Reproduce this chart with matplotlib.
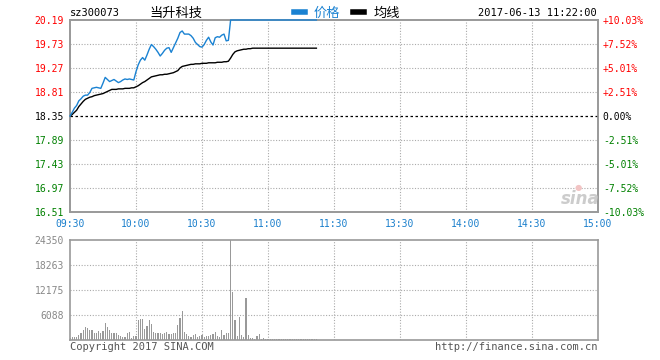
import matplotlib
matplotlib.use('Agg')
import matplotlib.pyplot as plt
from matplotlib.lines import Line2D

# ---------------- data ----------------
minutes = list(range(113))  # minutes after 09:30 (up to 11:22)

price = [18.35, 18.42, 18.50, 18.55, 18.64, 18.68, 18.73, 18.75, 18.75, 18.80,
         18.88, 18.89, 18.90, 18.89, 18.88, 18.98, 19.09, 19.05, 19.01, 19.03,
         19.05, 19.02, 18.99, 19.01, 19.04, 19.06, 19.05, 19.06, 19.05, 19.04,
         19.20, 19.33, 19.42, 19.47, 19.42, 19.52, 19.63, 19.72, 19.68, 19.63,
         19.57, 19.50, 19.55, 19.61, 19.65, 19.66, 19.57, 19.66, 19.75, 19.84,
         19.95, 19.98, 19.92, 19.92, 19.92, 19.89, 19.84, 19.76, 19.72, 19.68,
         19.67, 19.72, 19.80, 19.86, 19.77, 19.71, 19.85, 19.87, 19.86, 19.90,
         19.92, 19.79, 19.80, 20.19, 20.19, 20.19, 20.19, 20.19, 20.19, 20.19,
         20.19, 20.19, 20.19, 20.19, 20.19, 20.19, 20.19, 20.19, 20.19, 20.19,
         20.19, 20.19, 20.19, 20.19, 20.19, 20.19, 20.19, 20.19, 20.19, 20.19,
         20.19, 20.19, 20.19, 20.19, 20.19, 20.19, 20.19, 20.19, 20.19, 20.19,
         20.19, 20.19, 20.19]

avg_price = [18.35, 18.38, 18.42, 18.46, 18.53, 18.58, 18.63, 18.67, 18.69, 18.71,
             18.72, 18.74, 18.75, 18.76, 18.77, 18.78, 18.80, 18.82, 18.84, 18.86,
             18.86, 18.86, 18.87, 18.87, 18.87, 18.88, 18.88, 18.88, 18.89, 18.89,
             18.91, 18.93, 18.96, 18.99, 19.01, 19.04, 19.07, 19.10, 19.11, 19.12,
             19.13, 19.14, 19.14, 19.15, 19.15, 19.16, 19.17, 19.18, 19.20, 19.22,
             19.27, 19.30, 19.31, 19.32, 19.33, 19.34, 19.34, 19.35, 19.35, 19.35,
             19.36, 19.36, 19.36, 19.37, 19.37, 19.37, 19.37, 19.38, 19.38, 19.38,
             19.39, 19.39, 19.40, 19.46, 19.53, 19.58, 19.60, 19.61, 19.62, 19.63,
             19.63, 19.64, 19.64, 19.65, 19.65, 19.65, 19.65, 19.65, 19.65, 19.65,
             19.65, 19.65, 19.65, 19.65, 19.65, 19.65, 19.65, 19.65, 19.65, 19.65,
             19.65, 19.65, 19.65, 19.65, 19.65, 19.65, 19.65, 19.65, 19.65, 19.65,
             19.65, 19.65, 19.65]

volume = [490, 810, 650, 810, 1140, 1790, 2440, 3250, 2930, 2440,
          2440, 1790, 1630, 2110, 1790, 2110, 4060, 3250, 2440, 1630,
          1790, 1790, 1140, 980, 810, 810, 1790, 1950, 490, 980,
          980, 4870, 5200, 5200, 2600, 3410, 4870, 3900, 1950, 1790,
          1790, 1790, 1460, 1790, 1950, 1460, 1460, 1790, 1790, 3580,
          5370, 7160, 1950, 1460, 980, 650, 1140, 1460, 810, 980,
          1140, 810, 980, 980, 1140, 1460, 1950, 980, 810, 2440,
          1140, 1790, 1630, 24350, 11800, 4880, 890, 5690, 1220, 810,
          10250, 1220, 490, 490, 330, 980, 1460, 330, 490, 330,
          330, 250, 240, 250, 240, 250, 250, 240, 250, 240,
          250, 240, 250, 250, 240, 250, 240, 250, 250, 240,
          250, 240, 250]

prev_close = 18.35
price_ticks = [16.51, 16.97, 17.43, 17.89, 18.35, 18.81, 19.27, 19.73, 20.19]
pct_labels = ['-10.03%', '-7.52%', '-5.01%', '-2.51%', '0.00%',
              '+2.51%', '+5.01%', '+7.52%', '+10.03%']
time_ticks = [0, 30, 60, 90, 120, 150, 180, 210, 240]
time_labels = ['09:30', '10:00', '10:30', '11:00', '11:30',
               '13:30', '14:00', '14:30', '15:00']
vol_ticks = [6088, 12175, 18263, 24350]
vol_labels = ['6088', '12175', '18263', '24350']

# ---------------- style ----------------
W, H = 660, 360
MONO = 'DejaVu Sans Mono'
RED, GREEN, BLUE = '#ff0000', '#008000', '#1a7fcc'
FRAME = '#999999'
GRID = '#aaaaaa'

fig = plt.figure(figsize=(W / 100, H / 100), dpi=100)
fig.patch.set_facecolor('white')


def box(x0, y0, x1, y1):
    return [x0 / W, 1 - y1 / H, (x1 - x0) / W, (y1 - y0) / H]


ax = fig.add_axes(box(70, 20, 598, 212))
axv = fig.add_axes(box(70, 240, 598, 340))

# price panel
ax.plot(minutes, price, color='#1a82d2', lw=1.0, zorder=5, clip_on=False)
ax.plot(minutes, avg_price, color='black', lw=1.0, zorder=4)
ax.axhline(prev_close, color='black', lw=0.9, ls=(0, (2, 2)), zorder=2)
ax.set_xlim(0, 240)
ax.set_ylim(price_ticks[0], price_ticks[-1])
ax.set_yticks(price_ticks)
ax.set_yticklabels([f'{v:.2f}' for v in price_ticks], fontfamily=MONO, fontsize=7)
ax.set_xticks(time_ticks)
ax.set_xticklabels(time_labels, fontfamily=MONO, fontsize=7, color=BLUE)
ax.tick_params(length=0, pad=4.5)
ax.tick_params(axis='x', pad=5)
for i, t in enumerate(ax.get_yticklabels()):
    t.set_color(RED if i > 4 else (GREEN if i < 4 else 'black'))
for v in time_ticks[1:-1]:
    ax.axvline(v, color=GRID, lw=0.8, ls=(0, (1, 1.5)), zorder=1)
for v in price_ticks[1:-1]:
    if v != prev_close:
        ax.axhline(v, color=GRID, lw=0.8, ls=(0, (1, 1.5)), zorder=1)

axr = ax.twinx()
axr.set_ylim(price_ticks[0], price_ticks[-1])
axr.set_yticks(price_ticks)
axr.set_yticklabels(pct_labels, fontfamily=MONO, fontsize=7)
axr.tick_params(length=0, pad=3.5)
for i, t in enumerate(axr.get_yticklabels()):
    t.set_color(RED if i > 4 else (GREEN if i < 4 else 'black'))

for a in (ax, axr, axv):
    for s in a.spines.values():
        s.set_color(FRAME)
        s.set_linewidth(1.2)
ax.set_zorder(axr.get_zorder() + 1)
ax.patch.set_visible(False)

# volume panel
axv.bar(minutes, volume, width=0.5, color='#999999', linewidth=0, zorder=3,
        antialiased=False)
axv.set_xlim(0, 240)
axv.set_ylim(0, 24350)
axv.set_yticks(vol_ticks)
axv.set_yticklabels(vol_labels, fontfamily=MONO, fontsize=7, color='#888888')
axv.set_xticks([])
axv.tick_params(length=0, pad=4.5)
for v in time_ticks[1:-1]:
    axv.axvline(v, color=GRID, lw=0.8, ls=(0, (1, 1.5)), zorder=1)
for v in vol_ticks[:-1]:
    axv.axhline(v, color=GRID, lw=0.8, ls=(0, (1, 1.5)), zorder=1)

# header
fig.text(70 / W, 1 - 13 / H, 'sz300073', fontfamily=MONO, fontsize=7.5,
         ha='left', va='center', color='black')
fig.text(176 / W, 1 - 13 / H, '当升科技', fontfamily='Noto Sans CJK SC',
         fontsize=9.5, ha='center', va='center', color='black')
handles = [Line2D([], [], color='#1a82d2', lw=4), Line2D([], [], color='black', lw=4)]
leg = fig.legend(handles, ['价格', '均线'], loc='center left',
                 bbox_to_anchor=(294 / W, 1 - 13 / H), ncol=2, frameon=False,
                 prop={'family': 'Noto Sans CJK SC', 'size': 9.5},
                 handlelength=0.8, handletextpad=0.7, columnspacing=1.0,
                 borderpad=0, borderaxespad=0)
leg.get_texts()[0].set_color('#1a82d2')
fig.text(597 / W, 1 - 13 / H, '2017-06-13 11:22:00', fontfamily=MONO, fontsize=7.5,
         ha='right', va='center', color='black')

# footer
fig.text(70 / W, 1 - 347 / H, 'Copyright 2017 SINA.COM', fontfamily=MONO,
         fontsize=7.5, ha='left', va='center', color='#555555')
fig.text(597 / W, 1 - 347 / H, 'http://finance.sina.com.cn', fontfamily=MONO,
         fontsize=7.5, ha='right', va='center', color='#555555')

# watermark
fig.text(580 / W, 1 - 199 / H, 'sina', fontfamily='DejaVu Sans', fontsize=12,
         fontweight='bold', fontstyle='italic', ha='center', va='center',
         color='#cccccc')
fig.text(578 / W, 1 - 187 / H, '●', fontfamily='DejaVu Sans', fontsize=6,
         ha='center', va='center', color='#f2c4c4')

fig.savefig('out.png', dpi=100, facecolor='white')
